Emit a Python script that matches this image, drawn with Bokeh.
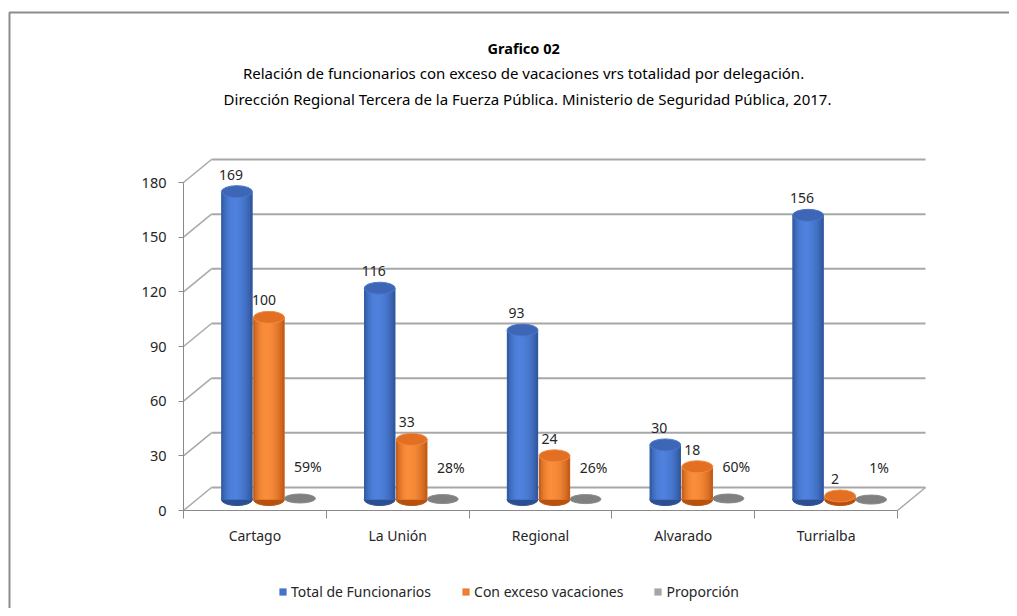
import numpy as np
from bokeh.plotting import figure
from bokeh.models import FixedTicker, Legend, LegendItem, Label
from bokeh.embed import file_html
from bokeh.resources import INLINE
from bokeh.core.properties import value

# ---------------- data ----------------
categories = ["Cartago", "La Unión", "Regional", "Alvarado", "Turrialba"]
total = [169, 116, 93, 30, 156]
exceso = [100, 33, 24, 18, 2]
proporcion = [0.59, 0.28, 0.26, 0.60, 0.01]
prop_labels = ["59%", "28%", "26%", "60%", "1%"]
series_names = ["Total de Funcionarios", "Con exceso vacaciones", "Proporción"]
y_ticks = [0, 30, 60, 90, 120, 150, 180]
title_lines = [
    "Grafico  02",
    "Relación de funcionarios con exceso de vacaciones  vrs totalidad por delegación.",
    "Dirección Regional Tercera de la Fuerza Pública. Ministerio de Seguridad Pública, 2017.",
]

# ---------------- layout (image pixels -> data) ----------------
W, H = 1009, 608
X0_PX, CAT_PX = 183.0, 142.8      # front-left floor corner, px per category
Y0_PX, UNIT_PX = 510.0, 1.822     # floor line, px per unit
x_start = -0.5 - X0_PX / CAT_PX
x_end = x_start + W / CAT_PX
y_start = -(H - Y0_PX) / UNIT_PX
y_end = y_start + H / UNIT_PX


def px_x(X):
    return -0.5 + (X - X0_PX) / CAT_PX


def px_y(Y):
    return (Y0_PX - Y) / UNIT_PX


DX = 28 / CAT_PX     # depth offset of back wall
DY = 23 / UNIT_PX
BASE = 6.0           # bars stand at mid depth
BW = 31 / CAT_PX     # bar width
OFFS = [-18 / CAT_PX, 14 / CAT_PX, 45 / CAT_PX]
FONT = value("Noto Sans")
TXT = "#262626"

p = figure(width=W, height=H, x_range=(x_start, x_end), y_range=(y_start, y_end),
           output_backend="svg", toolbar_location=None, min_border=0)
p.title.visible = False
p.outline_line_color = None
p.grid.visible = False
p.background_fill_color = "white"
p.border_fill_color = "white"

n = len(categories)
xc = np.arange(n, dtype=float)
lo, hi = -0.5, n - 0.5

# chart-area border
p.line([px_x(9), px_x(9), px_x(1030)], [px_y(630), px_y(12), px_y(12)],
       line_color="#8c8c8c", line_width=2)

# 3D walls: back gridlines + side-wall diagonals + floor edge
gc = "#a8a8a8"
for v in y_ticks:
    p.segment(x0=[lo + DX], y0=[v + DY], x1=[hi + DX], y1=[v + DY],
              line_color=gc, line_width=2)
    p.segment(x0=[lo], y0=[v], x1=[lo + DX], y1=[v + DY], line_color=gc, line_width=1.5)
p.segment(x0=[hi], y0=[0], x1=[hi + DX], y1=[DY], line_color=gc, line_width=1.5)


def hex2rgb(h):
    h = h.lstrip("#")
    return np.array([int(h[i:i + 2], 16) for i in (0, 2, 4)], dtype=float)


def rgb2hex(c):
    c = np.clip(np.round(c), 0, 255).astype(int)
    return "#%02x%02x%02x" % tuple(c)


def cylinder(xs, vals, edge, mid, peak, top_fill, top_line):
    xs = np.asarray(xs)
    vals = np.asarray(vals, dtype=float)
    # bottom rounding
    p.ellipse(x=xs, y=[BASE] * n, width=BW, height=12, height_units="screen",
              fill_color=edge, line_color=edge)
    body = p.vbar(x=xs, width=BW, bottom=BASE, top=BASE + vals,
                  fill_color=mid, line_color=None)
    ns = 14
    e, pk = hex2rgb(edge), hex2rgb(peak)
    for i in range(ns):
        t = (i + 0.5) / ns
        # brightness profile: dark edges, highlight left of centre
        if t < 0.4:
            f = np.sin(t / 0.4 * np.pi / 2) ** 0.7
        else:
            f = np.cos((t - 0.4) / 0.6 * np.pi / 2) ** 0.7
        col = rgb2hex(e + (pk - e) * f)
        sx = xs - BW / 2 + t * BW
        p.vbar(x=sx, width=BW / ns * 1.15, bottom=BASE, top=BASE + vals,
               fill_color=col, line_color=None)
    p.ellipse(x=xs, y=BASE + vals, width=BW, height=12, height_units="screen",
              fill_color=top_fill, line_color=top_line, line_width=1)
    return body


r_total = cylinder(xc + OFFS[0], total, "#2b4f91", "#4472c4", "#4f82de",
                   "#3d67b6", "#4a78cc")
r_exc = cylinder(xc + OFFS[1], exceso, "#b6520e", "#ed7d31", "#fa8e3c",
                 "#e26f22", "#f08a40")

xs_p = xc + OFFS[2]
r_prop = p.vbar(x=xs_p, width=BW, bottom=BASE, top=BASE + np.array(proporcion),
                fill_color="#a5a5a5", line_color=None)
p.ellipse(x=xs_p, y=BASE + np.array(proporcion), width=BW, height=9,
          height_units="screen", fill_color="#808080", line_color="#8a8a8a")

# data labels
p.text(x=xc + OFFS[0], y=BASE + np.array(total), text=[str(v) for v in total],
       x_offset=-6, y_offset=-17, text_align="center", text_baseline="middle",
       text_font=FONT, text_font_size="14px", text_color=TXT)
p.text(x=xc + OFFS[1], y=BASE + np.array(exceso), text=[str(v) for v in exceso],
       x_offset=-5, y_offset=-17, text_align="center", text_baseline="middle",
       text_font=FONT, text_font_size="14px", text_color=TXT)
p.text(x=xs_p, y=BASE + np.array(proporcion), text=prop_labels,
       x_offset=8, y_offset=-32, text_align="center", text_baseline="middle",
       text_font=FONT, text_font_size="14px", text_color=TXT)

# axes
p.yaxis.fixed_location = lo
p.yaxis.bounds = (0, 180)
p.yaxis.ticker = FixedTicker(ticks=y_ticks, minor_ticks=[])
p.yaxis.major_tick_out = 5
p.yaxis.major_tick_in = 0
p.yaxis.minor_tick_out = 0
p.yaxis.minor_tick_in = 0
p.yaxis.major_label_standoff = 12
p.yaxis.axis_line_color = "#8a8a8a"
p.yaxis.major_tick_line_color = "#8a8a8a"
p.yaxis.major_label_text_font = "Noto Sans"
p.yaxis.major_label_text_font_size = "14.5px"
p.yaxis.major_label_text_color = TXT

p.xaxis.fixed_location = 0
p.xaxis.bounds = (lo, hi)
p.xaxis.ticker = FixedTicker(ticks=list(range(n)),
                             minor_ticks=[i - 0.5 for i in range(n + 1)])
p.xaxis.major_label_overrides = {i: c for i, c in enumerate(categories)}
p.xaxis.major_tick_line_color = None
p.xaxis.major_tick_out = 0
p.xaxis.major_tick_in = 0
p.xaxis.minor_tick_out = 8
p.xaxis.minor_tick_in = 0
p.xaxis.minor_tick_line_color = "#8a8a8a"
p.xaxis.axis_line_color = "#8a8a8a"
p.xaxis.major_label_standoff = 7
p.xaxis.major_label_text_font = "Noto Sans"
p.xaxis.major_label_text_font_size = "14px"
p.xaxis.major_label_text_color = TXT

# titles
title_px = [(525, 47, "bold", "14.5px"), (525, 72, "normal", "15px"), (527, 98, "normal", "15px")]
for (tx, ty, fw, fs), t in zip(title_px, title_lines):
    p.add_layout(Label(x=px_x(tx), y=px_y(ty), text=t, text_align="center",
                       text_baseline="middle", text_font="Noto Sans",
                       text_font_style=fw, text_font_size=fs, text_color="#000000"))

legend = Legend(items=[LegendItem(label=series_names[0], renderers=[r_total]),
                       LegendItem(label=series_names[1], renderers=[r_exc]),
                       LegendItem(label=series_names[2], renderers=[r_prop])],
                orientation="horizontal", location=(278, 7))
legend.glyph_width = 9
legend.glyph_height = 9
legend.label_height = 16
legend.label_standoff = 4
legend.spacing = 30
legend.padding = 0
legend.margin = 0
legend.border_line_color = None
legend.background_fill_alpha = 0
legend.label_text_font = "Noto Sans"
legend.label_text_font_size = "14px"
legend.label_text_color = TXT
p.add_layout(legend)

open("out.html", "w").write(file_html(p, INLINE))
